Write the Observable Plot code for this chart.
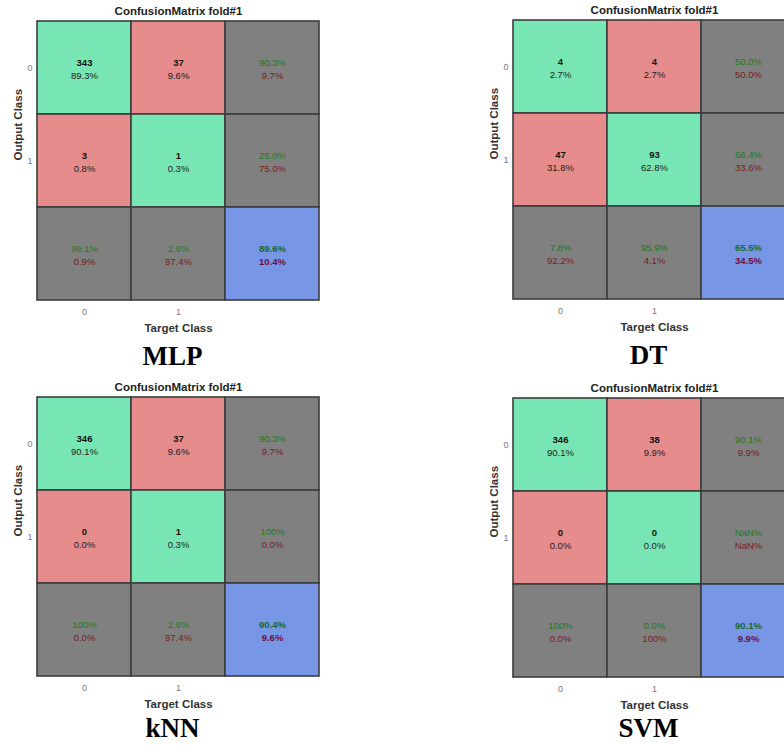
<!DOCTYPE html>
<html>
<head>
<meta charset="utf-8">
<script src="https://cdn.jsdelivr.net/npm/d3@7"></script>
<script src="https://cdn.jsdelivr.net/npm/@observablehq/plot@0.6"></script>
<style>
  html, body { margin: 0; padding: 0; background: #fff; }
  #wrap { position: relative; width: 784px; height: 745px; overflow: hidden; background: #fff; }
  #wrap > div { position: absolute; width: 340px; height: 368px; }
  #wrap svg { max-width: none !important; }
</style>
</head>
<body>
<div id="wrap"></div>
<script>
// ---- data ----
const classes = ["0", "1"];
const chartTitle = "ConfusionMatrix fold#1";
const xLabel = "Target Class";
const yLabel = "Output Class";
const models = ["MLP", "DT", "kNN", "SVM"];

// counts [output row][target col]
const mlpCounts = [[343, 37], [3, 1]];
const mlpPercents = [["89.3%", "9.6%"], ["0.8%", "0.3%"]];
const mlpRowAcc = [["90.3%", "9.7%"], ["25.0%", "75.0%"]];
const mlpColAcc = [["99.1%", "0.9%"], ["2.6%", "97.4%"]];
const mlpOverall = ["89.6%", "10.4%"];

const dtCounts = [[4, 4], [47, 93]];
const dtPercents = [["2.7%", "2.7%"], ["31.8%", "62.8%"]];
const dtRowAcc = [["50.0%", "50.0%"], ["66.4%", "33.6%"]];
const dtColAcc = [["7.8%", "92.2%"], ["95.9%", "4.1%"]];
const dtOverall = ["65.5%", "34.5%"];

const knnCounts = [[346, 37], [0, 1]];
const knnPercents = [["90.1%", "9.6%"], ["0.0%", "0.3%"]];
const knnRowAcc = [["90.3%", "9.7%"], ["100%", "0.0%"]];
const knnColAcc = [["100%", "0.0%"], ["2.6%", "97.4%"]];
const knnOverall = ["90.4%", "9.6%"];

const svmCounts = [[346, 38], [0, 0]];
const svmPercents = [["90.1%", "9.9%"], ["0.0%", "0.0%"]];
const svmRowAcc = [["90.1%", "9.9%"], ["NaN%", "NaN%"]];
const svmColAcc = [["100%", "0.0%"], ["0.0%", "100%"]];
const svmOverall = ["90.1%", "9.9%"];

const kinds = ["correct", "wrong", "summary", "total"];
const kindColors = ["#78E6B4", "#E68C8C", "#808080", "#7896E6"];

const sans = "'Liberation Sans', Arial, Helvetica, sans-serif";

function buildCells(counts, percents, rowAcc, colAcc, overall) {
  const cells = [];
  classes.forEach((r, i) => classes.forEach((c, j) => {
    cells.push({row: r, col: c, kind: i === j ? "correct" : "wrong", top: String(counts[i][j]), bottom: percents[i][j]});
  }));
  classes.forEach((r, i) => cells.push({row: r, col: "all", kind: "summary", top: rowAcc[i][0], bottom: rowAcc[i][1]}));
  classes.forEach((c, j) => cells.push({row: "all", col: c, kind: "summary", top: colAcc[j][0], bottom: colAcc[j][1]}));
  cells.push({row: "all", col: "all", kind: "total", top: overall[0], bottom: overall[1]});
  return cells;
}

function panel(name, cells, left, top, nameOffset) {
  const matrix = cells.filter(d => d.kind === "correct" || d.kind === "wrong");
  const summary = cells.filter(d => d.kind === "summary");
  const total = cells.filter(d => d.kind === "total");
  const domain = [...classes, "all"];
  const chart = Plot.plot({
    width: 340,
    height: 368,
    marginLeft: 37,
    marginTop: 20,
    marginRight: 21,
    marginBottom: 68,
    style: {fontFamily: sans, background: "transparent", overflow: "visible", maxWidth: "none"},
    x: {type: "band", domain, padding: 0},
    y: {type: "band", domain, padding: 0},
    color: {type: "ordinal", domain: kinds, range: kindColors},
    marks: [
      Plot.cell(cells, {x: "col", y: "row", fill: "kind", stroke: "#3c3c3c", strokeWidth: 1.6, inset: 0}),
      Plot.text(matrix, {x: "col", y: "row", text: "top", dy: -5, fontSize: 9.5, fontWeight: "bold", fill: "#111"}),
      Plot.text(matrix, {x: "col", y: "row", text: "bottom", dy: 7.5, fontSize: 9.5, fill: "#1e1e1e"}),
      Plot.text(summary, {x: "col", y: "row", text: "top", dy: -5, fontSize: 9.5, fill: "#1f7a1f"}),
      Plot.text(summary, {x: "col", y: "row", text: "bottom", dy: 7.5, fontSize: 9.5, fill: "#762020"}),
      Plot.text(total, {x: "col", y: "row", text: "top", dy: -5, fontSize: 9.5, fontWeight: "bold", fill: "#126b30"}),
      Plot.text(total, {x: "col", y: "row", text: "bottom", dy: 7.5, fontSize: 9.5, fontWeight: "bold", fill: "#6b1040"}),
      Plot.axisX({ticks: classes, tickSize: 0, tickPadding: 8, fontSize: 9, color: "#777", label: null}),
      Plot.axisY({ticks: classes, tickSize: 0, tickPadding: 5, fontSize: 9, color: "#777", label: null}),
      Plot.text([chartTitle], {frameAnchor: "top", dy: -9, lineAnchor: "middle", fontSize: 11.5, fontWeight: "bold", fill: "#222"}),
      Plot.text([xLabel], {frameAnchor: "bottom", dy: 27.5, lineAnchor: "middle", fontSize: 11.5, fontWeight: "bold", fill: "#333"}),
      Plot.text([yLabel], {frameAnchor: "left", dx: -18.7, rotate: -90, lineAnchor: "middle", fontSize: 11.5, fontWeight: "bold", fill: "#333"}),
      Plot.text([name], {frameAnchor: "bottom", dy: nameOffset, dx: -6, lineAnchor: "bottom", fontSize: 27, fontWeight: "bold", fontFamily: "'Liberation Serif', 'Times New Roman', serif", fill: "#000"})
    ]
  });
  const holder = document.createElement("div");
  holder.style.left = left + "px";
  holder.style.top = top + "px";
  holder.appendChild(chart);
  document.getElementById("wrap").appendChild(holder);
}

panel(models[0], buildCells(mlpCounts, mlpPercents, mlpRowAcc, mlpColAcc, mlpOverall), 0, 0, 64);
panel(models[1], buildCells(dtCounts, dtPercents, dtRowAcc, dtColAcc, dtOverall), 476, -1, 64);
panel(models[2], buildCells(knnCounts, knnPercents, knnRowAcc, knnColAcc, knnOverall), 0, 376, 60);
panel(models[3], buildCells(svmCounts, svmPercents, svmRowAcc, svmColAcc, svmOverall), 476, 377, 59);
</script>
</body>
</html>
